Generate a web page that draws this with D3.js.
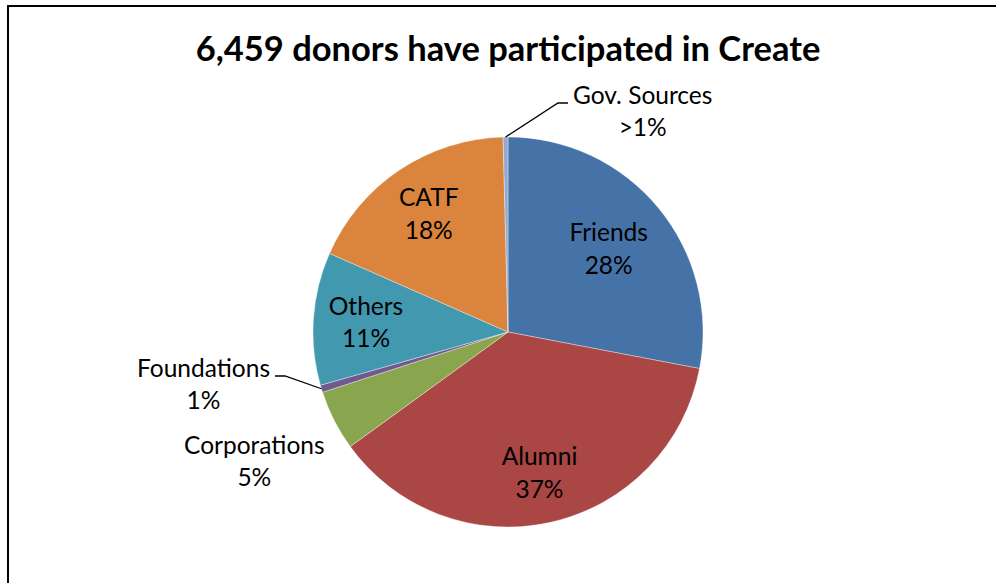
<!DOCTYPE html>
<html>
<head>
<meta charset="utf-8">
<script src="https://cdn.jsdelivr.net/npm/d3@7"></script>
<style>
  html, body { margin: 0; padding: 0; background: #fff; }
  svg { display: block; }
  text { font-family: Lato, "Open Sans", "Liberation Sans", sans-serif; fill: #000; }
</style>
</head>
<body>
<svg id="chart" width="996" height="583"></svg>
<script>
// Donor groups, clockwise from twelve o'clock
const categories = ["Friends", "Alumni", "Corporations", "Foundations", "Others", "CATF", "Gov. Sources"];
// Share of donors, percent
const shares = [28, 37, 5, 0.6, 11, 18, 0.4];
// Percent text shown under each group name
const shareLabels = ["28%", "37%", "5%", "1%", "11%", "18%", ">1%"];
const sliceColors = ["#4572A7", "#AA4643", "#89A54E", "#71588F", "#4198AF", "#DB843D", "#93A9CF"];
const title = "6,459 donors have participated in Create";

const W = 996, H = 583;
const cx = 508, cy = 332, R = 195;
const lineGap = 32.5;

// How each label sits: inside at a fraction of the radius, outside plainly,
// or outside with a leader (elbow given relative to the pie centre).
const labelPlacement = {
  "Friends":      { kind: "inside",  k: 0.67 },
  "Alumni":       { kind: "inside",  k: 0.74 },
  "Others":       { kind: "inside",  k: 0.73 },
  "CATF":         { kind: "inside",  k: 0.73 },
  "Corporations": { kind: "outside", k: 1.46 },
  "Foundations":  { kind: "leader",  elbow: [-223, 44], side: "left" },
  "Gov. Sources": { kind: "leader",  elbow: [50, -229], side: "right" }
};

const svg = d3.select("#chart");

// chart frame
svg.append("path")
  .attr("d", `M8,${H + 2} L8,6 L${W + 2},6`)
  .attr("fill", "none")
  .attr("stroke", "#000")
  .attr("stroke-width", 2);

svg.append("text")
  .attr("x", cx)
  .attr("y", 61)
  .attr("text-anchor", "middle")
  .attr("font-weight", "bold")
  .attr("font-size", 34.5)
  .text(title);

const data = categories.map((c, i) => ({ name: c, value: shares[i], label: shareLabels[i], color: sliceColors[i] }));

const pie = d3.pie().sort(null).value(d => d.value).startAngle(0).endAngle(2 * Math.PI);
const arcs = pie(data);
const arc = d3.arc().innerRadius(0).outerRadius(R);

const g = svg.append("g").attr("transform", `translate(${cx},${cy})`);

g.selectAll("path.slice")
  .data(arcs)
  .join("path")
  .attr("class", "slice")
  .attr("d", arc)
  .attr("fill", d => d.data.color)
  .attr("stroke", "#fff")
  .attr("stroke-opacity", 0.6)
  .attr("stroke-width", 0.6);

const fontSize = 24.5;

function twoLineLabel(x, y, a, b) {
  const t = g.append("text")
    .attr("text-anchor", "middle")
    .attr("font-size", fontSize);
  t.append("tspan").attr("x", x).attr("y", y - lineGap / 2).attr("dy", "0.35em").text(a);
  t.append("tspan").attr("x", x).attr("y", y + lineGap / 2).attr("dy", "0.35em").text(b);
  return t;
}

arcs.forEach(d => {
  const p = labelPlacement[d.data.name];
  const mid = (d.startAngle + d.endAngle) / 2;
  if (p.kind === "inside" || p.kind === "outside") {
    const r = R * p.k;
    twoLineLabel(r * Math.sin(mid), -r * Math.cos(mid), d.data.name, d.data.label);
  } else {
    const sx = R * Math.sin(mid), sy = -R * Math.cos(mid);
    const [ex, ey] = p.elbow;
    const dir = p.side === "left" ? -1 : 1;
    const tx = ex + dir * 10;
    g.append("path")
      .attr("d", `M${sx},${sy} L${ex},${ey} L${tx},${ey}`)
      .attr("fill", "none")
      .attr("stroke", "#000")
      .attr("stroke-width", 1.3);
    // measure the name to centre both lines on it
    const probe = g.append("text").attr("font-size", fontSize).text(d.data.name);
    const w = probe.node().getComputedTextLength();
    probe.remove();
    const centreX = tx + dir * (5 + w / 2);
    twoLineLabel(centreX, ey - 8 + lineGap / 2, d.data.name, d.data.label);
  }
});
</script>
</body>
</html>
